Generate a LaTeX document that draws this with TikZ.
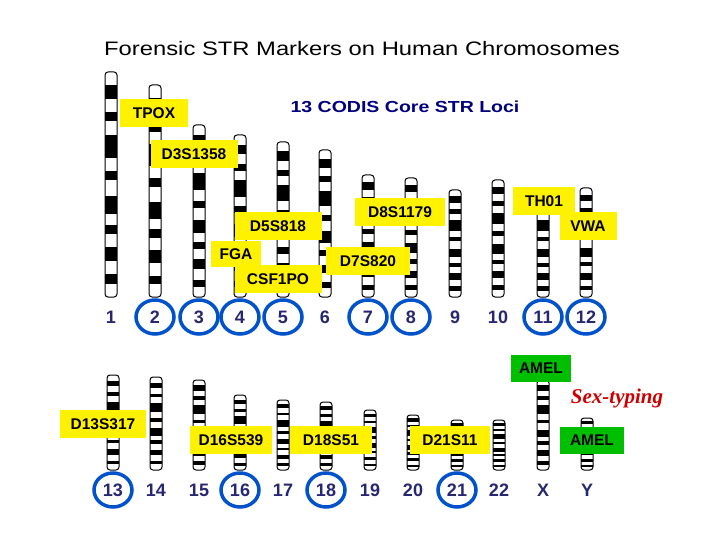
\documentclass[tikz,border=0pt]{standalone}
\usepackage{fontspec}
\usetikzlibrary{shapes.geometric}
\setmainfont{Liberation Sans}
\newfontfamily\serifit{Liberation Serif}
\newcommand\wide[1]{\scalebox{1.22}[1]{#1}}
\begin{document}
\begin{tikzpicture}[x=1pt,y=-1pt,
  lab/.style={fill=yellow,inner sep=0pt,minimum height=28pt,font=\bfseries\fontsize{15.5}{17}\selectfont},
  amel/.style={fill=green!75!black,inner sep=0pt,minimum height=27pt,font=\bfseries\fontsize{15.5}{17}\selectfont},
  num/.style={font=\bfseries\fontsize{18}{20}\selectfont,text=blue!35!black!85},
  ring/.style={draw=blue!60!cyan!80!black,line width=3.5pt,ellipse,minimum width=38pt,minimum height=34pt,inner sep=0pt}]
\useasboundingbox (0,0) rectangle (720,540);
\newcommand\chrom[3]{%
  \begin{scope}
  \draw[rounded corners=3pt,fill=white,line width=1pt] (#1-6,#2) rectangle (#1+6,#3);
  \foreach \a/\b in {0.06/0.12,0.18/0.22,0.28/0.38,0.44/0.48,0.55/0.63,0.68/0.72,0.78/0.84,0.9/0.94}
    \fill (#1-6,{#2+\a*(#3-#2)}) rectangle (#1+6,{#2+\b*(#3-#2)});
  \end{scope}}
\node[font=\fontsize{19.5}{22}\selectfont] (title) at (362,49) {\wide{Forensic STR Markers on Human Chromosomes}};
\node[font=\bfseries\fontsize{16}{18}\selectfont,text=blue!50!black] (codis) at (405,107) {\wide{13 CODIS Core STR Loci}};
\foreach \n/\x/\t in {1/111/72,2/155/85,3/199/125,4/240/135,5/283/142,6/325/150,7/368/175,8/411/178,9/455/190,10/498/180,11/543/190,12/586/188}{
  \chrom{\x}{\t}{297}
  \node[num] (n\n) at (\x,317) {\n};}
\foreach \n/\x/\t in {13/113/375,14/156/377,15/199/380,16/240/395,17/283/400,18/326/402,19/370/410,20/413/415,21/457/420,22/499/420,X/543/380,Y/587/418}{
  \chrom{\x}{\t}{470}
  \node[num] (n\n) at (\x,490) {\n};}
\foreach \n in {2,3,4,5,7,8,11,12,13,16,18,21} \node[ring] (r\n) at (n\n) {};
\node[lab,minimum width=68pt] (tpox) at (154,113) {TPOX};
\node[lab,minimum width=87pt] (d3) at (194,154) {D3S1358};
\node[lab,minimum width=87pt] (d5) at (278,226) {D5S818};
\node[lab,minimum width=50pt,minimum height=26pt] (fga) at (236,254) {FGA};
\node[lab,minimum width=87pt] (csf) at (278,279) {CSF1PO};
\node[lab,minimum width=90pt] (d8) at (400,212) {D8S1179};
\node[lab,minimum width=84pt] (d7) at (368,261) {D7S820};
\node[lab,minimum width=62pt] (th) at (544,201) {TH01};
\node[lab,minimum width=57pt] (vwa) at (588,226) {VWA};
\node[lab,minimum width=86pt] (d13) at (103,424) {D13S317};
\node[lab,minimum width=82pt] (d16) at (231,440) {D16S539};
\node[lab,minimum width=82pt] (d18) at (331,440) {D18S51};
\node[lab,minimum width=80pt] (d21) at (450,440) {D21S11};
\node[amel,minimum width=60pt] (am1) at (541,368) {AMEL};
\node[amel,minimum width=64pt] (am2) at (592,440) {AMEL};
\node[font=\serifit\bfseries\itshape\fontsize{21}{24}\selectfont,text=red!80!black] (sex) at (617,398) {Sex-typing};
\end{tikzpicture}
\end{document}
